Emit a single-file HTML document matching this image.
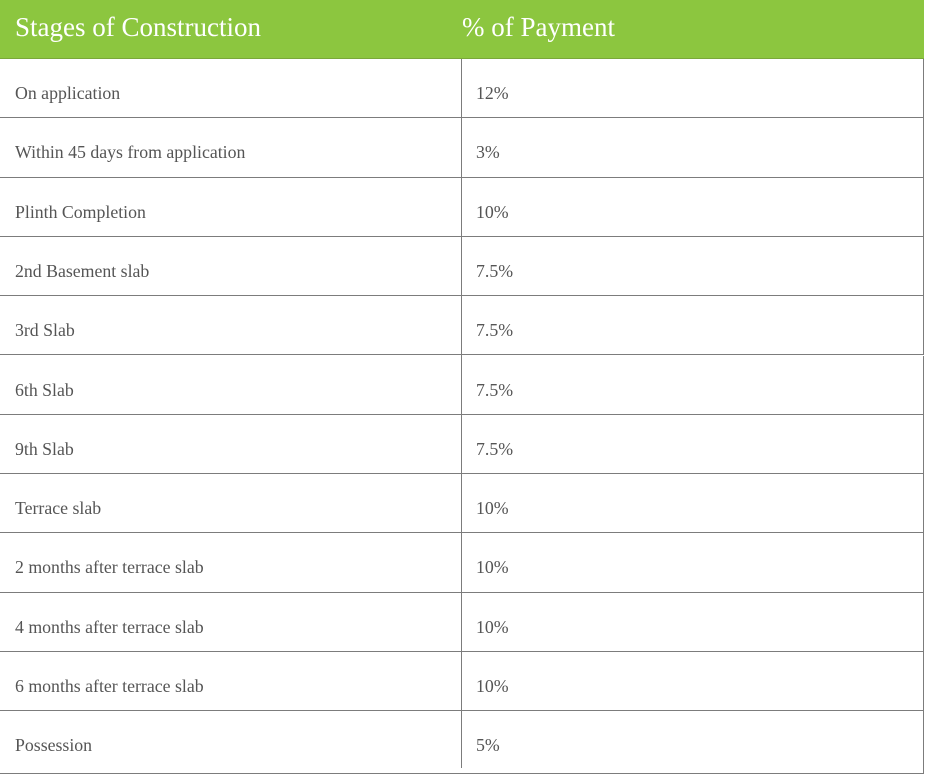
<!DOCTYPE html>
<html><head><meta charset="utf-8"><style>
body{margin:0;width:928px;height:768px;overflow:hidden;background:#fff;font-family:"Liberation Serif",serif;}
#t{position:relative;width:928px;height:768px;}
.hdr{position:absolute;left:0;top:0;width:924px;height:58px;background:#8cc63f;border-bottom:1px solid #7aa83a;}
.h{position:absolute;top:12px;color:#fff;font-size:27px;}
.row{position:absolute;left:0;width:923px;border-bottom:1px solid #7c7c7c;border-right:1px solid #7c7c7c;}
.c{position:absolute;color:#555;font-size:17.8px;}
.vl{position:absolute;left:461px;top:59px;width:1px;height:709px;background:#7c7c7c;}
</style></head><body>
<div id="t">
<div class="hdr">
<div class="h" style="left:15px">Stages of Construction</div>
<div class="h" style="left:462px">% of Payment</div>
</div>
<div id="rows"></div>
<div class="vl"></div>
</div>
<script>
const stages=["On application","Within 45 days from application","Plinth Completion","2nd Basement slab","3rd Slab","6th Slab","9th Slab","Terrace slab","2 months after terrace slab","4 months after terrace slab","6 months after terrace slab","Possession"];
const payments=["12%","3%","10%","7.5%","7.5%","7.5%","7.5%","10%","10%","10%","10%","5%"];
const rows=document.getElementById('rows');
const rh=59.3;
stages.forEach((s,i)=>{
 const r=document.createElement('div');
 r.className='row';
 
 
 const top=59+i*rh;
 r.style.top=top+'px';
 r.style.height=(i==stages.length-1?768-top+5:rh-1)+'px';
 const a=document.createElement('div');
 a.className='c';a.style.left='15px';a.style.top='24px';a.textContent=s;
 
 
 const b=document.createElement('div');
 b.className='c';b.style.left='476px';b.style.top='24px';b.textContent=payments[i];
 
 
 r.appendChild(a);r.appendChild(b);rows.appendChild(r);
});
</script>
</body></html>
